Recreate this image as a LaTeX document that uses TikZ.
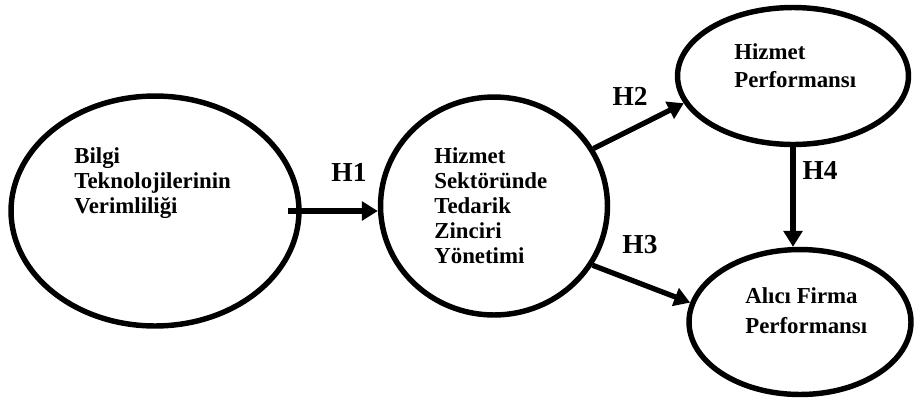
\documentclass[tikz,border=0pt]{standalone}
\usepackage{fontspec}
\setmainfont{Liberation Serif}
\usetikzlibrary{shapes.geometric,arrows.meta}

\begin{document}
\begin{tikzpicture}[x=0.02cm,y=-0.02cm,
  oval/.style={draw,ellipse,line width=3.1pt,inner sep=0pt},
  txt/.style={anchor=base west,align=left,inner sep=0pt,font=\bfseries\fontsize{13}{14.2}\selectfont},
  hyp/.style={font=\bfseries\fontsize{15.6}{18}\selectfont,inner sep=0pt},
  arr/.style={line width=3pt,-{Triangle[length=9pt,width=10.5pt]}}]
\useasboundingbox (0,0) rectangle (915,403);
\node[oval,minimum width=5.76cm,minimum height=4.6cm] (bilgi) at (155,211) {};
\node[oval,minimum width=4.54cm,minimum height=4.36cm] (tzy) at (494,206) {};
\node[oval,minimum width=4.62cm,minimum height=2.74cm] (hp) at (793,76) {};
\node[oval,minimum width=4.44cm,minimum height=2.9cm] (afp) at (800,322) {};
\node[txt] (bilgitxt) at (74,213) {Bilgi\\Teknolojilerinin\\Verimliliği};
\node[txt] (tzytxt) at (434,263) {Hizmet\\Sektöründe\\Tedarik\\Zinciri\\Yönetimi};
\node[txt,font=\bfseries\fontsize{13}{15.4}\selectfont] (hptxt) at (734,87) {Hizmet\\Performansı};
\node[txt,font=\bfseries\fontsize{13}{17}\selectfont] (afptxt) at (745,333) {Alıcı Firma\\Performansı};
\draw[arr] ([xshift=-0.28cm]bilgi.east) -- (bilgi.east -| tzy.west);
\draw[arr] (tzy.30) -- (hp.194);
\draw[arr] (tzy.-31) -- (afp.170);
\draw[arr] (hp.south) -- (hp.south |- afp.north);
\node[hyp] (h1) at (349,172) {H1};
\node[hyp] (h2) at (630,96) {H2};
\node[hyp] (h3) at (640,245) {H3};
\node[hyp] (h4) at (820,170) {H4};
\end{tikzpicture}
\end{document}
